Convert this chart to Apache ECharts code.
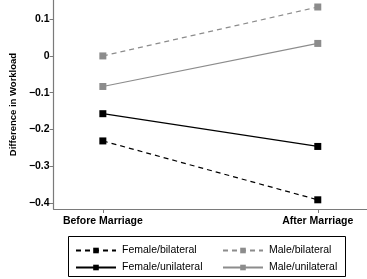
<!DOCTYPE html>
<html>
<head>
<meta charset="utf-8">
<script src="https://cdn.jsdelivr.net/npm/echarts@6/dist/echarts.min.js"></script>
<style>
  html, body { margin: 0; padding: 0; background: #fff; }
  #chart { width: 367px; height: 279px; }
</style>
</head>
<body>
<div id="chart"></div>
<script>
const categories = ['Before Marriage', 'After Marriage'];
const femaleBilateral = [-0.231, -0.391];
const femaleUnilateral = [-0.157, -0.246];
const maleBilateral = [0.0, 0.133];
const maleUnilateral = [-0.083, 0.034];
const yTicks = [-0.4, -0.3, -0.2, -0.1, 0, 0.1];

const chart = echarts.init(document.getElementById('chart'));

const toPoints = (vals) => vals.map((v, i) => [i, v]);
const fmtY = (v) => {
    const s = Math.abs(v) < 1e-9 ? '0' : (Math.round(v * 10) / 10).toString();
    return s.replace('-', '\u2212');
};

const axisGray = '#7a7a7a';
const black = '#000';
const gray = '#8c8c8c';

const makeSeries = (name, data, color, dashed) => ({
    name: name,
    type: 'line',
    data: toPoints(data),
    symbol: 'rect',
    symbolSize: 7,
    itemStyle: { color: color },
    lineStyle: { color: color, width: 1.2, type: dashed ? [5, 4] : 'solid' },
    emphasis: { disabled: true },
    animation: false,
});

const legendBase = {
    orient: 'vertical',
    top: 240,
    itemWidth: 40,
    itemHeight: 7,
    itemGap: 6,
    textStyle: { color: black, fontSize: 10.5, padding: [0, 0, 0, 1] },
    selectedMode: false,
};

const option = {
    backgroundColor: '#fff',
    textStyle: { fontFamily: 'Liberation Sans, Arial, sans-serif' },
    grid: { left: 42, right: 0, top: 0, bottom: 70 },
    xAxis: {
        type: 'value',
        min: -0.229,
        max: 1.229,
        splitLine: { show: false },
        axisLine: { show: true, onZero: false, lineStyle: { color: axisGray, width: 1.2 } },
        axisTick: { show: true, customValues: [0, 1], length: 4, lineStyle: { color: axisGray } },
        axisLabel: {
            customValues: [0, 1],
            formatter: (v) => categories[Math.round(v)],
            color: black,
            fontWeight: 'bold',
            fontSize: 10.5,
            margin: 7,
        },
    },
    yAxis: {
        type: 'value',
        min: -0.416,
        max: 0.152,
        name: 'Difference in Workload',
        nameLocation: 'middle',
        nameGap: 35,
        nameTextStyle: { color: black, fontWeight: 'bold', fontSize: 9.5 },
        splitLine: { show: false },
        axisLine: { show: true, onZero: false, lineStyle: { color: axisGray, width: 1.2 } },
        axisTick: { show: true, customValues: yTicks, length: 4, lineStyle: { color: axisGray } },
        axisLabel: {
            customValues: yTicks,
            formatter: fmtY,
            color: black,
            fontWeight: 'bold',
            fontSize: 10.5,
            margin: 4,
        },
    },
    legend: [
        Object.assign({}, legendBase, {
            data: ['Female/bilateral', 'Female/unilateral'],
            left: 70,
        }),
        Object.assign({}, legendBase, {
            data: ['Male/bilateral', 'Male/unilateral'],
            left: 217,
        }),
    ],
    graphic: [
        {
            type: 'rect',
            shape: { x: 68.5, y: 236.5, width: 277, height: 40 },
            style: { fill: 'none', stroke: '#000', lineWidth: 1 },
            silent: true,
        },
    ],
    series: [
        makeSeries('Female/bilateral', femaleBilateral, black, true),
        makeSeries('Male/bilateral', maleBilateral, gray, true),
        makeSeries('Female/unilateral', femaleUnilateral, black, false),
        makeSeries('Male/unilateral', maleUnilateral, gray, false),
    ],
};

chart.setOption(option);
</script>
</body>
</html>
